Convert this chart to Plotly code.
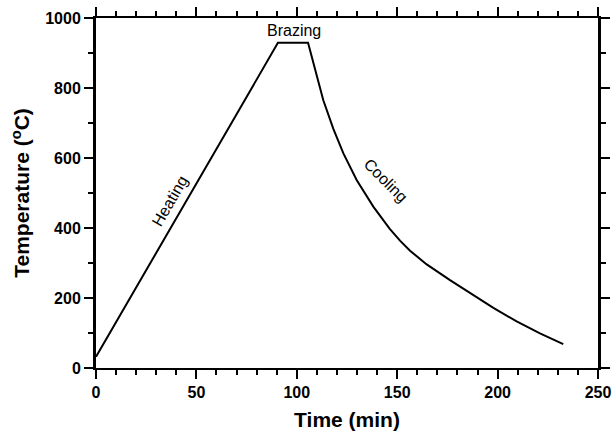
import plotly.graph_objects as go

time_min = [0, 90.6, 105.6, 109.1, 113.2, 118.2, 123.2, 129.8, 138.1, 146.4, 151.4,
            156.4, 164.7, 176.3, 186.3, 197.9, 209.5, 221.1, 232.7]
temp_c = [32, 929, 929, 850, 765, 683, 613, 537, 461, 397, 364,
          335, 296, 251, 214, 172, 133, 99, 68]

x_ticks = [0, 50, 100, 150, 200, 250]
y_ticks = [0, 200, 400, 600, 800, 1000]

labels = [
    dict(text="Heating", x=36.5, y=477, angle=-60),
    dict(text="Brazing", x=98.6, y=963, angle=0),
    dict(text="Cooling", x=144.4, y=537, angle=45),
]

FONT = "Liberation Sans, Arial"

fig = go.Figure()
fig.add_trace(go.Scatter(x=time_min, y=temp_c, mode="lines",
                         line=dict(color="black", width=2),
                         hoverinfo="skip", showlegend=False))

for lb in labels:
    fig.add_annotation(x=lb["x"], y=lb["y"], text=lb["text"], textangle=lb["angle"],
                       showarrow=False, font=dict(family=FONT, size=16, color="black"))

fig.update_layout(
    width=613, height=441,
    margin=dict(l=96, r=15, t=18, b=73, autoexpand=False),
    paper_bgcolor="white", plot_bgcolor="white",
    font=dict(family=FONT, color="black"),
)
fig.update_xaxes(
    range=[0, 250], tickvals=x_ticks, ticktext=[str(v) for v in x_ticks],
    showgrid=False, zeroline=False, automargin=False,
    showline=True, linecolor="black", linewidth=2, mirror="allticks",
    ticks="outside", ticklen=9, tickwidth=2, tickcolor="black",
    minor=dict(dtick=10, tick0=0, ticks="outside", ticklen=5, tickwidth=1.5, tickcolor="black", showgrid=False),
    tickfont=dict(size=16, weight="bold", family=FONT),
    title=dict(text="Time (min)", font=dict(size=21, weight="bold", family=FONT), standoff=12),
)
fig.update_yaxes(
    range=[0, 1000], tickvals=y_ticks, ticktext=[str(v) for v in y_ticks],
    showgrid=False, zeroline=False, automargin=False,
    showline=True, linecolor="black", linewidth=3, mirror="allticks",
    ticks="outside", ticklen=9, tickwidth=2, tickcolor="black",
    minor=dict(dtick=100, tick0=0, ticks="outside", ticklen=5, tickwidth=2, tickcolor="black", showgrid=False),
    tickfont=dict(size=16, weight="bold", family=FONT),
    title=dict(text="Temperature (<sup>o</sup>C)", font=dict(size=21, weight="bold", family=FONT), standoff=10),
)

fig.write_html("out.html")
